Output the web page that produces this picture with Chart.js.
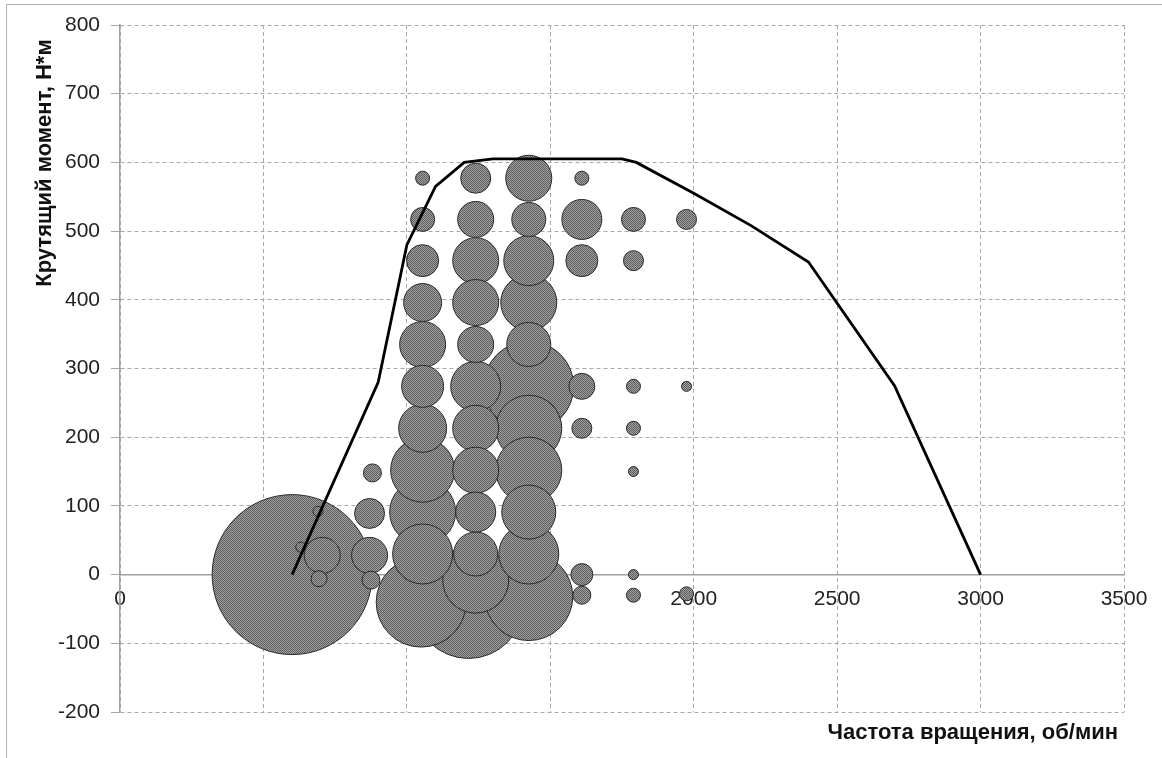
<!DOCTYPE html>
<html>
<head>
<meta charset="utf-8">
<script src="https://cdn.jsdelivr.net/npm/chart.js@4.4.1/dist/chart.umd.min.js"></script>
<style>
  html, body { margin: 0; padding: 0; background: #fff; }
  #wrap { position: relative; width: 1162px; height: 758px; overflow: hidden; }
  #frame { position: absolute; left: 6px; top: 4px; width: 1200px; height: 800px;
           border-left: 1px solid #b4b4b4; border-top: 1px solid #b4b4b4; }
  #c { position: absolute; left: 0; top: 0; }
</style>
</head>
<body>
<div id="wrap">
  <div id="frame"></div>
  <canvas id="c" width="1162" height="758"></canvas>
</div>
<script>
// точки нагрузки (частота, момент, размер пузырька)
const bubbleRpm = [
  600, 630, 690, 705, 694, 880, 870, 870, 875,
  1055, 1055, 1055, 1055, 1055, 1055, 1055, 1055, 1055, 1055, 1050,
  1240, 1240, 1240, 1240, 1240, 1240, 1240, 1240, 1240, 1240, 1240, 1215,
  1425, 1425, 1425, 1425, 1425, 1425, 1425, 1425, 1425, 1425, 1425,
  1610, 1610, 1610, 1610, 1610, 1610, 1610,
  1790, 1790, 1790, 1790, 1790, 1790, 1790,
  1975, 1975, 1975
];
const bubbleTorque = [
  0, 40, 92, 28, -6, 148, 89, 28, -8,
  577, 517, 457, 396, 335, 274, 213, 152, 91, 30, -40,
  577, 517, 457, 396, 335, 274, 213, 152, 91, 30, -8, -42,
  577, 517, 457, 396, 335, 274, 213, 152, 91, 30, -32,
  577, 517, 457, 274, 213, 0, -30,
  517, 457, 274, 213, 150, 0, -30,
  517, 274, -28
];
const bubbleSize = [
  80, 5, 5, 18, 8, 9, 15, 18, 9,
  7, 12, 16, 19, 23, 21, 24, 32, 33, 30, 45,
  15, 18, 23, 23, 18, 25, 23, 23, 20, 22, 33, 55,
  23, 17, 25, 28, 22, 45, 33, 33, 27, 30, 44,
  7, 20, 16, 13, 10, 11, 9,
  12, 10, 7, 7, 5, 5, 7,
  10, 5, 7
];

// внешняя скоростная характеристика
const curveRpm = [600, 900, 1000, 1100, 1200, 1300, 1750, 1800, 2000, 2200, 2400, 2700, 3000];
const curveTorque = [0, 280, 480, 565, 600, 605, 605, 600, 555, 508, 455, 275, 0];

const xMin = 0, xMax = 3500, xStep = 500;
const yMin = -200, yMax = 800, yStep = 100;
const xTitle = 'Частота вращения, об/мин';
const yTitle = 'Крутящий момент, Н*м';

// штриховка пузырьков
function makePattern() {
  const p = document.createElement('canvas');
  p.width = 2; p.height = 2;
  const pc = p.getContext('2d');
  pc.fillStyle = '#a0a0a0';
  pc.fillRect(0, 0, 2, 2);
  pc.fillStyle = '#5e5e5e';
  pc.fillRect(0, 0, 1, 1);
  pc.fillRect(1, 1, 1, 1);
  return document.getElementById('c').getContext('2d').createPattern(p, 'repeat');
}

// крупные пузырьки рисуем первыми
const bubbles = bubbleRpm.map((x, i) => ({x: x, y: bubbleTorque[i], r: bubbleSize[i]}))
  .sort((a, b) => b.r - a.r);
const curve = curveRpm.map((x, i) => ({x: x, y: curveTorque[i]}));

const axisTitles = {
  id: 'axisTitles',
  afterDraw(chart) {
    const {ctx, chartArea: area} = chart;
    ctx.save();
    ctx.fillStyle = '#111';
    ctx.font = 'bold 22px "Liberation Sans", Arial, sans-serif';
    ctx.textBaseline = 'middle';
    ctx.textAlign = 'right';
    ctx.fillText(xTitle, area.right - 6, 733);
    ctx.translate(45, 163);
    ctx.rotate(-Math.PI / 2);
    ctx.textAlign = 'center';
    ctx.fillText(yTitle, 0, 0);
    ctx.restore();
  }
};

const gridColor = '#a8a8a8';
const tickFont = {family: '"Liberation Sans", Arial, sans-serif', size: 21};

new Chart(document.getElementById('c'), {
  type: 'bubble',
  data: {
    datasets: [
      {
        type: 'line',
        data: curve,
        borderColor: '#000',
        borderWidth: 2.8,
        pointRadius: 0,
        fill: false,
        tension: 0,
        order: 0
      },
      {
        data: bubbles,
        backgroundColor: makePattern(),
        borderColor: '#2a2a2a',
        borderWidth: 1,
        order: 1
      }
    ]
  },
  options: {
    responsive: false,
    animation: false,
    devicePixelRatio: 1,
    layout: {autoPadding: false, padding: {top: 25, right: 38, bottom: 46, left: 0}},
    plugins: {legend: {display: false}, tooltip: {enabled: false}},
    scales: {
      x: {
        type: 'linear',
        position: {y: 0},
        min: xMin, max: xMax,
        afterFit(scale) { scale.height = 0; scale.paddingLeft = 0; scale.paddingRight = 0; },
        ticks: {stepSize: xStep, color: '#222', font: tickFont, padding: 12, maxRotation: 0,
                callback: v => String(v)},
        grid: {color: gridColor, drawTicks: false},
        border: {display: true, color: '#a0a0a0', width: 1.5, dash: [4, 3]}
      },
      y: {
        type: 'linear',
        min: yMin, max: yMax,
        afterFit(scale) { scale.width = 120; },
        ticks: {stepSize: yStep, color: '#222', font: tickFont, padding: 11,
                callback: v => String(v)},
        grid: {color: gridColor, drawTicks: true, tickLength: 9, tickColor: gridColor},
        border: {display: true, color: '#a0a0a0', width: 1.5, dash: [4, 3]}
      }
    }
  },
  plugins: [axisTitles]
});
</script>
</body>
</html>
